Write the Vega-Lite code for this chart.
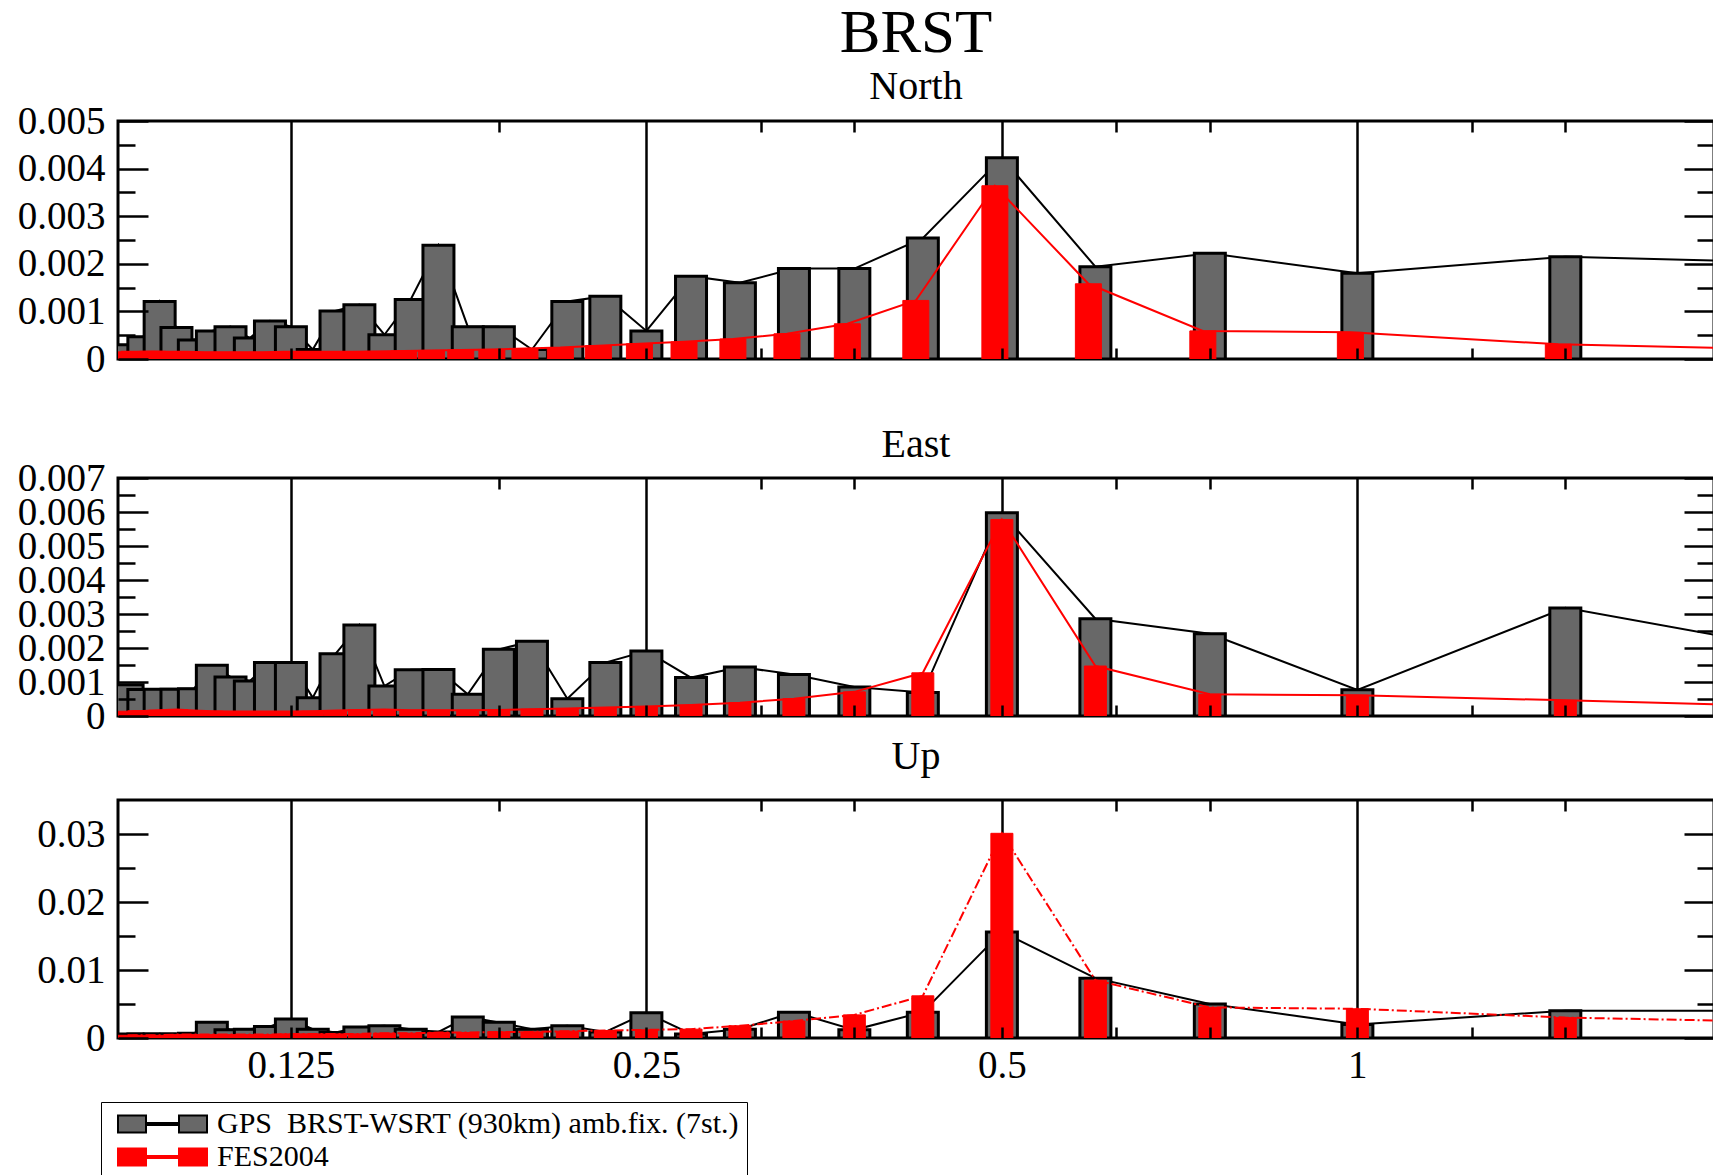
{
"$schema": "https://vega.github.io/schema/vega-lite/v6.json",
"background": "white",
"padding": {"left": 15, "top": 2, "right": 0, "bottom": 0},
"data": {"values": [
{"p":"N","f":0.090909,"g":0.0003,"r":0.00015},
{"p":"N","f":0.09375,"g":0.00047,"r":0.00015},
{"p":"N","f":0.096774,"g":0.00121,"r":0.00016},
{"p":"N","f":0.1,"g":0.00066,"r":0.00015},
{"p":"N","f":0.103448,"g":0.0004,"r":0.00015},
{"p":"N","f":0.107143,"g":0.00059,"r":0.00014},
{"p":"N","f":0.111111,"g":0.00068,"r":0.00014},
{"p":"N","f":0.115385,"g":0.00044,"r":0.00014},
{"p":"N","f":0.12,"g":0.0008,"r":0.00014},
{"p":"N","f":0.125,"g":0.00068,"r":0.00015},
{"p":"N","f":0.130435,"g":0.0002,"r":0.00015},
{"p":"N","f":0.136364,"g":0.00101,"r":0.00015},
{"p":"N","f":0.142857,"g":0.00114,"r":0.00015},
{"p":"N","f":0.15,"g":0.00051,"r":0.00016},
{"p":"N","f":0.157895,"g":0.00125,"r":0.00017},
{"p":"N","f":0.166667,"g":0.00239,"r":0.00018},
{"p":"N","f":0.176471,"g":0.00068,"r":0.00019},
{"p":"N","f":0.1875,"g":0.00068,"r":0.0002},
{"p":"N","f":0.2,"g":0.0002,"r":0.00022},
{"p":"N","f":0.214286,"g":0.00121,"r":0.00024},
{"p":"N","f":0.230769,"g":0.00132,"r":0.00028},
{"p":"N","f":0.25,"g":0.00059,"r":0.00032},
{"p":"N","f":0.272727,"g":0.00174,"r":0.00036},
{"p":"N","f":0.3,"g":0.0016,"r":0.00042},
{"p":"N","f":0.333333,"g":0.0019,"r":0.00053},
{"p":"N","f":0.375,"g":0.0019,"r":0.00074},
{"p":"N","f":0.428571,"g":0.00254,"r":0.00123},
{"p":"N","f":0.5,"g":0.00423,"r":0.00364},
{"p":"N","f":0.6,"g":0.00194,"r":0.00158},
{"p":"N","f":0.75,"g":0.00222,"r":0.00059},
{"p":"N","f":1,"g":0.0018,"r":0.00056},
{"p":"N","f":1.5,"g":0.00215,"r":0.00031},
{"p":"N","f":3,"g":0.00195,"r":0.00014},
{"p":"E","f":0.090909,"g":0.00092,"r":0.00014},
{"p":"E","f":0.09375,"g":0.00078,"r":0.00015},
{"p":"E","f":0.096774,"g":0.00079,"r":0.00017},
{"p":"E","f":0.1,"g":0.00079,"r":0.00019},
{"p":"E","f":0.103448,"g":0.0008,"r":0.00016},
{"p":"E","f":0.107143,"g":0.00149,"r":0.00014},
{"p":"E","f":0.111111,"g":0.00115,"r":0.00013},
{"p":"E","f":0.115385,"g":0.00103,"r":0.00013},
{"p":"E","f":0.12,"g":0.00157,"r":0.00013},
{"p":"E","f":0.125,"g":0.00157,"r":0.00013},
{"p":"E","f":0.130435,"g":0.00054,"r":0.00014},
{"p":"E","f":0.136364,"g":0.00183,"r":0.00016},
{"p":"E","f":0.142857,"g":0.00268,"r":0.00018},
{"p":"E","f":0.15,"g":0.00088,"r":0.00019},
{"p":"E","f":0.157895,"g":0.00136,"r":0.00017},
{"p":"E","f":0.166667,"g":0.00137,"r":0.00017},
{"p":"E","f":0.176471,"g":0.00064,"r":0.00017},
{"p":"E","f":0.1875,"g":0.00196,"r":0.00018},
{"p":"E","f":0.2,"g":0.0022,"r":0.0002},
{"p":"E","f":0.214286,"g":0.00051,"r":0.00022},
{"p":"E","f":0.230769,"g":0.00157,"r":0.00025},
{"p":"E","f":0.25,"g":0.00191,"r":0.00028},
{"p":"E","f":0.272727,"g":0.00113,"r":0.00032},
{"p":"E","f":0.3,"g":0.00144,"r":0.00039},
{"p":"E","f":0.333333,"g":0.00122,"r":0.00051},
{"p":"E","f":0.375,"g":0.00085,"r":0.00071},
{"p":"E","f":0.428571,"g":0.00069,"r":0.00127},
{"p":"E","f":0.5,"g":0.00598,"r":0.00578},
{"p":"E","f":0.6,"g":0.00286,"r":0.00147},
{"p":"E","f":0.75,"g":0.00242,"r":0.00064},
{"p":"E","f":1,"g":0.00077,"r":0.00061},
{"p":"E","f":1.5,"g":0.00318,"r":0.00046},
{"p":"E","f":3,"g":0.0013,"r":0.00019},
{"p":"U","f":0.090909,"g":0.0006,"r":0.0004},
{"p":"U","f":0.09375,"g":0.0006,"r":0.0004},
{"p":"U","f":0.096774,"g":0.0006,"r":0.0004},
{"p":"U","f":0.1,"g":0.0006,"r":0.0005},
{"p":"U","f":0.103448,"g":0.0007,"r":0.0005},
{"p":"U","f":0.107143,"g":0.0023,"r":0.0005},
{"p":"U","f":0.111111,"g":0.0012,"r":0.0005},
{"p":"U","f":0.115385,"g":0.0013,"r":0.0005},
{"p":"U","f":0.12,"g":0.0017,"r":0.0005},
{"p":"U","f":0.125,"g":0.0028,"r":0.0006},
{"p":"U","f":0.130435,"g":0.0013,"r":0.0006},
{"p":"U","f":0.136364,"g":0.0008,"r":0.0006},
{"p":"U","f":0.142857,"g":0.0016,"r":0.0006},
{"p":"U","f":0.15,"g":0.0018,"r":0.0007},
{"p":"U","f":0.157895,"g":0.0013,"r":0.0007},
{"p":"U","f":0.166667,"g":0.0009,"r":0.0008},
{"p":"U","f":0.176471,"g":0.0031,"r":0.0008},
{"p":"U","f":0.1875,"g":0.0023,"r":0.0009},
{"p":"U","f":0.2,"g":0.0013,"r":0.0009},
{"p":"U","f":0.214286,"g":0.0018,"r":0.001},
{"p":"U","f":0.230769,"g":0.0009,"r":0.0011},
{"p":"U","f":0.25,"g":0.0037,"r":0.0012},
{"p":"U","f":0.272727,"g":0.0006,"r":0.0013},
{"p":"U","f":0.3,"g":0.0013,"r":0.0018},
{"p":"U","f":0.333333,"g":0.0038,"r":0.0025},
{"p":"U","f":0.375,"g":0.0012,"r":0.0034},
{"p":"U","f":0.428571,"g":0.0038,"r":0.0062},
{"p":"U","f":0.5,"g":0.0156,"r":0.0301},
{"p":"U","f":0.6,"g":0.0088,"r":0.0085},
{"p":"U","f":0.75,"g":0.005,"r":0.0045},
{"p":"U","f":1,"g":0.002,"r":0.0043},
{"p":"U","f":1.5,"g":0.004,"r":0.003},
{"p":"U","f":3,"g":0.004,"r":0.002}
]},
"title": {"text": "BRST", "fontSize": 61, "anchor": "middle", "frame": "group", "offset": 1},
"spacing": 0,
"bounds": "flush",
"vconcat": [
{
"width": 1596, "height": 238,
"title": {"text": "North", "fontSize": 40, "anchor": "middle", "frame": "group", "offset": -5},
"transform": [{"filter": "datum.p == 'N'"}],
"resolve": {"axis": {"x": "independent", "y": "independent"}},
"layer": [
{"mark": {"type": "line", "color": "black", "strokeWidth": 2, "clip": true},
 "encoding": {
  "x": {"field": "f", "type": "quantitative", "scale": {"type": "log", "base": 2, "domain": [0.0901, 1.985], "nice": false}, "axis": {"orient": "top", "values": [0.125, 0.25, 0.5, 1], "grid": true, "gridColor": "black", "gridWidth": 2.5, "gridOpacity": 1, "ticks": false, "labels": false, "title": null, "zindex": 0}},
  "y": {"field": "g", "type": "quantitative", "scale": {"domain": [0, 0.005], "nice": false}, "axis": {"orient": "left", "values": [0, 0.001, 0.002, 0.003, 0.004, 0.005], "tickSize": -30, "tickWidth": 2.5, "labelFontSize": 39, "labelPadding": 43, "format": "~g", "grid": false, "title": null, "zindex": 1}}}},
{"mark": {"type": "bar", "orient": "vertical", "width": 31, "strokeWidth": 3, "clip": true},
 "encoding": {
  "x": {"field": "f", "type": "quantitative", "scale": {"type": "log", "base": 2, "domain": [0.0901, 1.985], "nice": false}, "axis": {"orient": "bottom", "values": [0.125, 0.1875, 0.25, 0.3125, 0.375, 0.5, 0.625, 0.75, 1, 1.25, 1.5], "tickSize": -11, "tickWidth": 2.5, "labels": false, "grid": false, "title": null, "zindex": 1}},
  "y": {"field": "g", "type": "quantitative", "stack": null, "scale": {"domain": [0, 0.005], "nice": false}, "axis": {"orient": "left", "values": [0.0005, 0.0015, 0.0025, 0.0035, 0.0045], "tickSize": -17, "tickWidth": 2.5, "labels": false, "grid": false, "title": null, "zindex": 1}},
  "color": {"datum": "GPS\u00a0 BRST-WSRT (930km) amb.fix. (7st.)", "type": "nominal", "scale": {"domain": ["GPS\u00a0 BRST-WSRT (930km) amb.fix. (7st.)", "FES2004"], "range": ["#686868", "#ff0000"]},
   "legend": {"title": null, "orient": "none", "legendX": -17, "legendY": 981, "symbolType": "M-1,-0.85H1.8V0.85H-1Z M5.1,-0.85H7.9V0.85H5.1Z M1.8,-0.1H5.1V0.1H1.8Z", "symbolSize": 400, "symbolStrokeWidth": 2, "symbolOffset": 5, "labelOffset": 74, "labelLimit": 2000, "labelFont": "Liberation Serif", "labelFontSize": 30, "labelColor": "black", "rowPadding": 3, "padding": 7, "strokeColor": "black", "fillColor": "white", "encode": {"legend": {"update": {"strokeWidth": {"value": 3}}}}}},
  "stroke": {"datum": "GPS\u00a0 BRST-WSRT (930km) amb.fix. (7st.)", "type": "nominal", "scale": {"domain": ["GPS\u00a0 BRST-WSRT (930km) amb.fix. (7st.)", "FES2004"], "range": ["#000000", "#ff0000"]},
   "legend": {"title": null, "orient": "none", "legendX": -17, "legendY": 981, "symbolType": "M-1,-0.85H1.8V0.85H-1Z M5.1,-0.85H7.9V0.85H5.1Z M1.8,-0.1H5.1V0.1H1.8Z", "symbolSize": 400, "symbolStrokeWidth": 2, "symbolOffset": 5, "labelOffset": 74, "labelLimit": 2000, "labelFont": "Liberation Serif", "labelFontSize": 30, "labelColor": "black", "rowPadding": 3, "padding": 7, "strokeColor": "black", "fillColor": "white", "encode": {"legend": {"update": {"strokeWidth": {"value": 3}}}}}}}},
{"mark": {"type": "line", "color": "#ff0000", "strokeWidth": 2, "clip": true, "xOffset": -7},
 "encoding": {
  "x": {"field": "f", "type": "quantitative", "scale": {"type": "log", "base": 2, "domain": [0.0901, 1.985], "nice": false}, "axis": {"orient": "top", "values": [0.1875, 0.3125, 0.375, 0.625, 0.75, 1.25, 1.5], "tickSize": -11, "tickWidth": 2.5, "labels": false, "grid": false, "title": null, "zindex": 1}},
  "y": {"field": "r", "type": "quantitative", "scale": {"domain": [0, 0.005], "nice": false}, "axis": {"orient": "right", "values": [0, 0.001, 0.002, 0.003, 0.004, 0.005], "tickSize": -30, "tickWidth": 2.5, "labels": false, "grid": false, "title": null, "zindex": 1}}}},
{"mark": {"type": "bar", "orient": "vertical", "width": 26, "clip": true, "xOffset": -7},
 "encoding": {
  "x": {"field": "f", "type": "quantitative", "scale": {"type": "log", "base": 2, "domain": [0.0901, 1.985], "nice": false}, "axis": null},
  "y": {"field": "r", "type": "quantitative", "stack": null, "scale": {"domain": [0, 0.005], "nice": false}, "axis": {"orient": "right", "values": [0.0005, 0.0015, 0.0025, 0.0035, 0.0045], "tickSize": -17, "tickWidth": 2.5, "labels": false, "grid": false, "title": null, "zindex": 1}},
  "color": {"datum": "FES2004", "type": "nominal"},
  "stroke": {"datum": "FES2004", "type": "nominal"}}}
]
},
{"width": 1596, "height": 119, "view": {"stroke": null}, "transform": [{"filter": "false"}], "mark": "point", "encoding": {}},
{
"width": 1596, "height": 238,
"title": {"text": "East", "fontSize": 40, "anchor": "middle", "frame": "group", "offset": -6},
"transform": [{"filter": "datum.p == 'E'"}],
"resolve": {"axis": {"x": "independent", "y": "independent"}},
"layer": [
{"mark": {"type": "line", "color": "black", "strokeWidth": 2, "clip": true},
 "encoding": {
  "x": {"field": "f", "type": "quantitative", "scale": {"type": "log", "base": 2, "domain": [0.0901, 1.985], "nice": false}, "axis": {"orient": "top", "values": [0.125, 0.25, 0.5, 1], "grid": true, "gridColor": "black", "gridWidth": 2.5, "gridOpacity": 1, "ticks": false, "labels": false, "title": null, "zindex": 0}},
  "y": {"field": "g", "type": "quantitative", "scale": {"domain": [0, 0.007], "nice": false}, "axis": {"orient": "left", "values": [0, 0.001, 0.002, 0.003, 0.004, 0.005, 0.006, 0.007], "tickSize": -30, "tickWidth": 2.5, "labelFontSize": 39, "labelPadding": 43, "format": "~g", "grid": false, "title": null, "zindex": 1}}}},
{"mark": {"type": "bar", "orient": "vertical", "width": 31, "strokeWidth": 3, "clip": true},
 "encoding": {
  "x": {"field": "f", "type": "quantitative", "scale": {"type": "log", "base": 2, "domain": [0.0901, 1.985], "nice": false}, "axis": {"orient": "bottom", "values": [0.125, 0.1875, 0.25, 0.3125, 0.375, 0.5, 0.625, 0.75, 1, 1.25, 1.5], "tickSize": -11, "tickWidth": 2.5, "labels": false, "grid": false, "title": null, "zindex": 1}},
  "y": {"field": "g", "type": "quantitative", "stack": null, "scale": {"domain": [0, 0.007], "nice": false}, "axis": {"orient": "left", "values": [0.0005, 0.0015, 0.0025, 0.0035, 0.0045, 0.0055, 0.0065], "tickSize": -17, "tickWidth": 2.5, "labels": false, "grid": false, "title": null, "zindex": 1}},
  "color": {"datum": "GPS\u00a0 BRST-WSRT (930km) amb.fix. (7st.)", "type": "nominal"},
  "stroke": {"datum": "GPS\u00a0 BRST-WSRT (930km) amb.fix. (7st.)", "type": "nominal"}}},
{"mark": {"type": "line", "color": "#ff0000", "strokeWidth": 2, "clip": true},
 "encoding": {
  "x": {"field": "f", "type": "quantitative", "scale": {"type": "log", "base": 2, "domain": [0.0901, 1.985], "nice": false}, "axis": {"orient": "top", "values": [0.1875, 0.3125, 0.375, 0.625, 0.75, 1.25, 1.5], "tickSize": -11, "tickWidth": 2.5, "labels": false, "grid": false, "title": null, "zindex": 1}},
  "y": {"field": "r", "type": "quantitative", "scale": {"domain": [0, 0.007], "nice": false}, "axis": {"orient": "right", "values": [0, 0.001, 0.002, 0.003, 0.004, 0.005, 0.006, 0.007], "tickSize": -30, "tickWidth": 2.5, "labels": false, "grid": false, "title": null, "zindex": 1}}}},
{"mark": {"type": "bar", "orient": "vertical", "width": 22, "clip": true},
 "encoding": {
  "x": {"field": "f", "type": "quantitative", "scale": {"type": "log", "base": 2, "domain": [0.0901, 1.985], "nice": false}, "axis": null},
  "y": {"field": "r", "type": "quantitative", "stack": null, "scale": {"domain": [0, 0.007], "nice": false}, "axis": {"orient": "right", "values": [0.0005, 0.0015, 0.0025, 0.0035, 0.0045, 0.0055, 0.0065], "tickSize": -17, "tickWidth": 2.5, "labels": false, "grid": false, "title": null, "zindex": 1}},
  "color": {"datum": "FES2004", "type": "nominal"},
  "stroke": {"datum": "FES2004", "type": "nominal"}}}
]
},
{"width": 1596, "height": 84, "view": {"stroke": null}, "transform": [{"filter": "false"}], "mark": "point", "encoding": {}},
{
"width": 1596, "height": 238,
"title": {"text": "Up", "fontSize": 40, "anchor": "middle", "frame": "group", "offset": 22},
"transform": [{"filter": "datum.p == 'U'"}],
"resolve": {"axis": {"x": "independent", "y": "independent"}},
"layer": [
{"mark": {"type": "line", "color": "black", "strokeWidth": 2, "clip": true},
 "encoding": {
  "x": {"field": "f", "type": "quantitative", "scale": {"type": "log", "base": 2, "domain": [0.0901, 1.985], "nice": false}, "axis": {"orient": "top", "values": [0.125, 0.25, 0.5, 1], "grid": true, "gridColor": "black", "gridWidth": 2.5, "gridOpacity": 1, "ticks": false, "labels": false, "title": null, "zindex": 0}},
  "y": {"field": "g", "type": "quantitative", "scale": {"domain": [0, 0.035], "nice": false}, "axis": {"orient": "left", "values": [0, 0.01, 0.02, 0.03], "tickSize": -30, "tickWidth": 2.5, "labelFontSize": 39, "labelPadding": 43, "format": "~g", "grid": false, "title": null, "zindex": 1}}}},
{"mark": {"type": "bar", "orient": "vertical", "width": 31, "strokeWidth": 3, "clip": true},
 "encoding": {
  "x": {"field": "f", "type": "quantitative", "scale": {"type": "log", "base": 2, "domain": [0.0901, 1.985], "nice": false}, "axis": {"orient": "bottom", "values": [0.125, 0.1875, 0.25, 0.3125, 0.375, 0.5, 0.625, 0.75, 1, 1.25, 1.5], "tickSize": -11, "tickWidth": 2.5, "labels": true, "labelFontSize": 39, "labelPadding": 19, "labelExpr": "datum.value == 0.125 ? '0.125' : datum.value == 0.25 ? '0.25' : datum.value == 0.5 ? '0.5' : datum.value == 1 ? '1' : ''", "grid": false, "title": null, "zindex": 1}},
  "y": {"field": "g", "type": "quantitative", "stack": null, "scale": {"domain": [0, 0.035], "nice": false}, "axis": {"orient": "left", "values": [0.005, 0.015, 0.025], "tickSize": -17, "tickWidth": 2.5, "labels": false, "grid": false, "title": null, "zindex": 1}},
  "color": {"datum": "GPS\u00a0 BRST-WSRT (930km) amb.fix. (7st.)", "type": "nominal"},
  "stroke": {"datum": "GPS\u00a0 BRST-WSRT (930km) amb.fix. (7st.)", "type": "nominal"}}},
{"mark": {"type": "line", "color": "#ff0000", "strokeWidth": 2, "strokeDash": [10, 3, 2, 3], "clip": true},
 "encoding": {
  "x": {"field": "f", "type": "quantitative", "scale": {"type": "log", "base": 2, "domain": [0.0901, 1.985], "nice": false}, "axis": {"orient": "top", "values": [0.1875, 0.3125, 0.375, 0.625, 0.75, 1.25, 1.5], "tickSize": -11, "tickWidth": 2.5, "labels": false, "grid": false, "title": null, "zindex": 1}},
  "y": {"field": "r", "type": "quantitative", "scale": {"domain": [0, 0.035], "nice": false}, "axis": {"orient": "right", "values": [0, 0.01, 0.02, 0.03], "tickSize": -30, "tickWidth": 2.5, "labels": false, "grid": false, "title": null, "zindex": 1}}}},
{"mark": {"type": "bar", "orient": "vertical", "width": 22, "clip": true},
 "encoding": {
  "x": {"field": "f", "type": "quantitative", "scale": {"type": "log", "base": 2, "domain": [0.0901, 1.985], "nice": false}, "axis": null},
  "y": {"field": "r", "type": "quantitative", "stack": null, "scale": {"domain": [0, 0.035], "nice": false}, "axis": {"orient": "right", "values": [0.005, 0.015, 0.025], "tickSize": -17, "tickWidth": 2.5, "labels": false, "grid": false, "title": null, "zindex": 1}},
  "color": {"datum": "FES2004", "type": "nominal"},
  "stroke": {"datum": "FES2004", "type": "nominal"}}}
]
}
],
"config": {
 "font": "Liberation Serif",
 "view": {"stroke": "black", "strokeWidth": 3},
 "axis": {"labelFont": "Liberation Serif", "labelColor": "black", "tickColor": "black", "domain": false, "labelOverlap": false, "labelFlush": false, "minExtent": 0},
 "title": {"font": "Liberation Serif", "fontWeight": "normal", "color": "black"}
}
}
